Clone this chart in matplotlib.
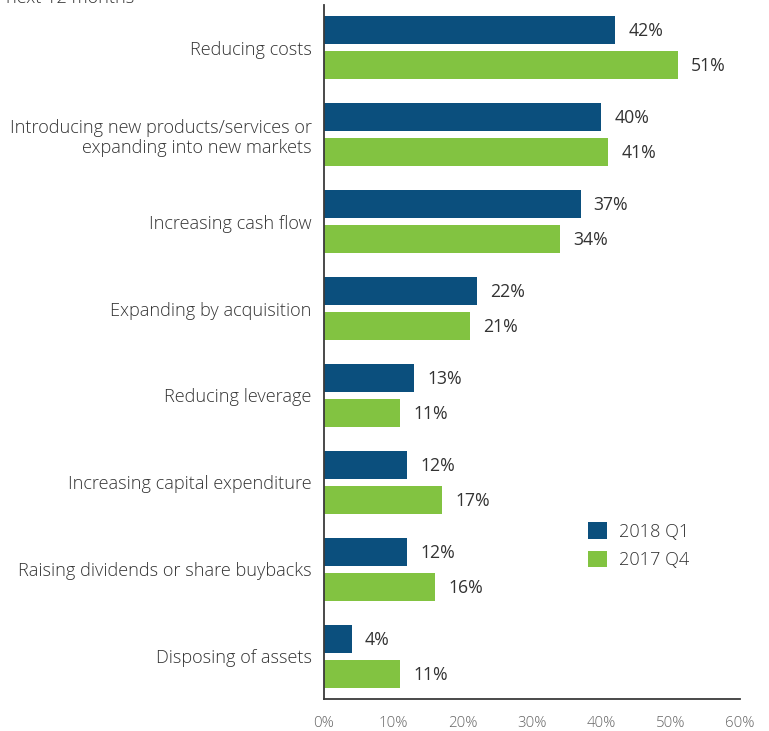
import numpy as np
import matplotlib.pyplot as plt
from matplotlib.patches import Patch

plt.rcParams['font.family'] = ['Open Sans', 'DejaVu Sans']
plt.rcParams['font.weight'] = 'light'

categories = [
    'Reducing costs',
    'Introducing new products/services or\nexpanding into new markets',
    'Increasing cash flow',
    'Expanding by acquisition',
    'Reducing leverage',
    'Increasing capital expenditure',
    'Raising dividends or share buybacks',
    'Disposing of assets',
]
q1_2018 = [42, 40, 37, 22, 13, 12, 12, 4]
q4_2017 = [51, 41, 34, 21, 11, 17, 16, 11]
series_names = ['2018 Q1', '2017 Q4']
xticks = [0, 10, 20, 30, 40, 50, 60]

BLUE = '#0b4f7d'
GREEN = '#82c341'
TEXT = '#333333'

fig = plt.figure(figsize=(7.69, 7.31), dpi=100)
ax = fig.add_axes([324 / 769, 1 - 699 / 731, (740 - 324) / 769, (699 - 5) / 731])

y = np.arange(len(categories))
h = 0.322
off = 0.201
ax.barh(y - off, q1_2018, height=h, color=BLUE, label=series_names[0])
ax.barh(y + off, q4_2017, height=h, color=GREEN, label=series_names[1])

# value labels in regular weight, slightly darker than category text
for yi, v in zip(y - off, q1_2018):
    ax.text(v + 1.9, yi + 0.01, f'{v}%', va='center', ha='left', fontsize=12.7,
            fontweight='normal', color=TEXT)
for yi, v in zip(y + off, q4_2017):
    ax.text(v + 1.9, yi + 0.01, f'{v}%', va='center', ha='left', fontsize=12.7,
            fontweight='normal', color=TEXT)

ax.set_xlim(0, 60)
ax.set_ylim(7.49, -0.49)
ax.set_yticks(y)
ax.set_yticklabels(categories, fontsize=13.1, color=TEXT, ha='right')
ax.set_xticks(xticks)
ax.set_xticklabels([f'{t}%' for t in xticks], fontsize=10.8, color='#666666')
ax.tick_params(axis='y', length=0, pad=9)
ax.tick_params(axis='x', length=0, pad=12)

for s in ['top', 'right']:
    ax.spines[s].set_visible(False)
for s in ['left', 'bottom']:
    ax.spines[s].set_color('#3a3a3a')
    ax.spines[s].set_linewidth(1.3)

handles = [Patch(facecolor=BLUE), Patch(facecolor=GREEN)]
fig.legend(handles, series_names, loc='upper left',
           bbox_to_anchor=(572 / 769, 1 - 506 / 731), frameon=False,
           fontsize=13.1, handlelength=1.0, handleheight=1.0,
           handletextpad=0.7, labelspacing=0.55, labelcolor=TEXT)

# heading line partly above the top edge
fig.text(6 / 769, 1 - 3 / 731, 'next 12 months', fontsize=13.1, color=TEXT,
         va='baseline', ha='left')

fig.savefig('out.png', dpi=100)
